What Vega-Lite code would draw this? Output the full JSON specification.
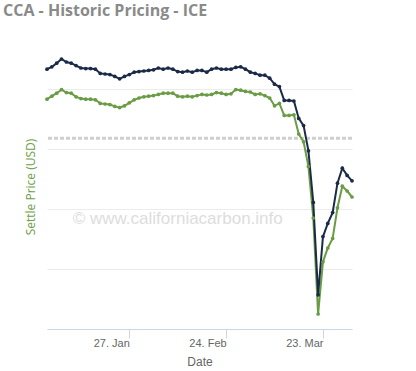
{
  "$schema": "https://vega.github.io/schema/vega-lite/v6.json",
  "width": 305,
  "height": 285,
  "autosize": {"type": "none"},
  "padding": {"left": 47, "top": 44, "right": 64, "bottom": 42},
  "background": "white",
  "title": {"text": "CCA - Historic Pricing - ICE", "anchor": "start", "frame": "group", "dx": -44, "offset": 25, "color": "#8a8a8a", "fontSize": 16, "font": "Open Sans", "fontWeight": "bold"},
  "config": {"view": {"stroke": null}},
  "datasets": {
    "prices": [
      {"date":"2020-01-02","Dec-21":17.83,"Dec-20":17.33},
      {"date":"2020-01-03","Dec-21":17.87,"Dec-20":17.38},
      {"date":"2020-01-06","Dec-21":17.93,"Dec-20":17.43},
      {"date":"2020-01-07","Dec-21":18.00,"Dec-20":17.49},
      {"date":"2020-01-08","Dec-21":17.95,"Dec-20":17.44},
      {"date":"2020-01-09","Dec-21":17.93,"Dec-20":17.43},
      {"date":"2020-01-10","Dec-21":17.89,"Dec-20":17.37},
      {"date":"2020-01-13","Dec-21":17.85,"Dec-20":17.34},
      {"date":"2020-01-14","Dec-21":17.84,"Dec-20":17.33},
      {"date":"2020-01-15","Dec-21":17.84,"Dec-20":17.33},
      {"date":"2020-01-16","Dec-21":17.83,"Dec-20":17.32},
      {"date":"2020-01-17","Dec-21":17.76,"Dec-20":17.26},
      {"date":"2020-01-20","Dec-21":17.75,"Dec-20":17.25},
      {"date":"2020-01-21","Dec-21":17.74,"Dec-20":17.24},
      {"date":"2020-01-22","Dec-21":17.71,"Dec-20":17.21},
      {"date":"2020-01-23","Dec-21":17.67,"Dec-20":17.19},
      {"date":"2020-01-24","Dec-21":17.71,"Dec-20":17.22},
      {"date":"2020-01-27","Dec-21":17.74,"Dec-20":17.27},
      {"date":"2020-01-28","Dec-21":17.78,"Dec-20":17.32},
      {"date":"2020-01-29","Dec-21":17.79,"Dec-20":17.35},
      {"date":"2020-01-30","Dec-21":17.80,"Dec-20":17.37},
      {"date":"2020-01-31","Dec-21":17.81,"Dec-20":17.38},
      {"date":"2020-02-03","Dec-21":17.82,"Dec-20":17.39},
      {"date":"2020-02-04","Dec-21":17.85,"Dec-20":17.41},
      {"date":"2020-02-05","Dec-21":17.83,"Dec-20":17.43},
      {"date":"2020-02-06","Dec-21":17.85,"Dec-20":17.43},
      {"date":"2020-02-07","Dec-21":17.83,"Dec-20":17.43},
      {"date":"2020-02-10","Dec-21":17.79,"Dec-20":17.38},
      {"date":"2020-02-11","Dec-21":17.78,"Dec-20":17.37},
      {"date":"2020-02-12","Dec-21":17.80,"Dec-20":17.38},
      {"date":"2020-02-13","Dec-21":17.78,"Dec-20":17.37},
      {"date":"2020-02-14","Dec-21":17.81,"Dec-20":17.39},
      {"date":"2020-02-17","Dec-21":17.81,"Dec-20":17.41},
      {"date":"2020-02-18","Dec-21":17.78,"Dec-20":17.40},
      {"date":"2020-02-19","Dec-21":17.83,"Dec-20":17.41},
      {"date":"2020-02-20","Dec-21":17.85,"Dec-20":17.44},
      {"date":"2020-02-21","Dec-21":17.83,"Dec-20":17.43},
      {"date":"2020-02-24","Dec-21":17.83,"Dec-20":17.41},
      {"date":"2020-02-25","Dec-21":17.83,"Dec-20":17.42},
      {"date":"2020-02-26","Dec-21":17.86,"Dec-20":17.49},
      {"date":"2020-02-27","Dec-21":17.87,"Dec-20":17.48},
      {"date":"2020-02-28","Dec-21":17.83,"Dec-20":17.46},
      {"date":"2020-03-02","Dec-21":17.78,"Dec-20":17.45},
      {"date":"2020-03-03","Dec-21":17.76,"Dec-20":17.41},
      {"date":"2020-03-04","Dec-21":17.73,"Dec-20":17.42},
      {"date":"2020-03-05","Dec-21":17.73,"Dec-20":17.39},
      {"date":"2020-03-06","Dec-21":17.68,"Dec-20":17.35},
      {"date":"2020-03-09","Dec-21":17.58,"Dec-20":17.22},
      {"date":"2020-03-10","Dec-21":17.54,"Dec-20":17.26},
      {"date":"2020-03-11","Dec-21":17.31,"Dec-20":17.06},
      {"date":"2020-03-12","Dec-21":17.31,"Dec-20":17.06},
      {"date":"2020-03-13","Dec-21":17.30,"Dec-20":17.07},
      {"date":"2020-03-16","Dec-21":17.01,"Dec-20":16.75},
      {"date":"2020-03-17","Dec-21":16.89,"Dec-20":16.62},
      {"date":"2020-03-18","Dec-21":16.47,"Dec-20":16.21},
      {"date":"2020-03-19","Dec-21":15.61,"Dec-20":15.35},
      {"date":"2020-03-20","Dec-21":14.07,"Dec-20":13.75},
      {"date":"2020-03-23","Dec-21":15.04,"Dec-20":14.62},
      {"date":"2020-03-24","Dec-21":15.26,"Dec-20":14.85},
      {"date":"2020-03-25","Dec-21":15.44,"Dec-20":15.01},
      {"date":"2020-03-26","Dec-21":15.93,"Dec-20":15.52},
      {"date":"2020-03-27","Dec-21":16.18,"Dec-20":15.88},
      {"date":"2020-03-30","Dec-21":16.06,"Dec-20":15.80},
      {"date":"2020-03-31","Dec-21":15.97,"Dec-20":15.70}
    ]
  },
  "layer": [
    {
      "data": {"values": [{"date": "2020-02-10", "price": 15.33, "label": "© www.californiacarbon.info"}]},
      "mark": {"type": "text", "font": "Liberation Sans", "fontSize": 17, "color": "#dddddd", "align": "center", "baseline": "middle"},
      "encoding": {
        "x": {"field": "date", "type": "ordinal"},
        "y": {"field": "price", "type": "quantitative"},
        "text": {"field": "label"}
      }
    },
    {
      "data": {"values": [{"ref": 16.68}]},
      "mark": {"type": "rule", "color": "#cfcfcf", "strokeWidth": 3, "strokeDash": [4, 2]},
      "encoding": {"y": {"field": "ref", "type": "quantitative"}}
    },
    {
      "data": {"name": "prices"},
      "transform": [{"fold": ["Dec-20", "Dec-21"], "as": ["contract", "price"]}],
      "mark": {"type": "line", "strokeWidth": 2, "point": {"filled": true, "size": 14}},
      "encoding": {
        "x": {
          "field": "date", "type": "ordinal",
          "scale": {"type": "point", "padding": 0},
          "axis": {
            "values": ["2020-01-27", "2020-02-24", "2020-03-23"],
            "labelExpr": "utcFormat(toDate(datum.value), '%d. %b')",
            "labelAngle": 0, "labelFont": "Liberation Sans", "labelFontSize": 11, "labelColor": "#666666",
            "labelPadding": 5, "tickSize": 9, "tickColor": "#ccd6eb", "domainColor": "#ccd6eb", "domainWidth": 1,
            "grid": false, "title": "Date", "titleFont": "Liberation Sans", "titleFontSize": 12,
            "titleFontWeight": "normal", "titleColor": "#666666", "titlePadding": 8
          }
        },
        "y": {
          "field": "price", "type": "quantitative",
          "scale": {"domain": [13.5, 18.25], "nice": false, "zero": false},
          "axis": {
            "values": [13.5, 13.75, 14, 14.25, 14.5, 14.75, 15, 15.25, 15.5, 15.75, 16, 16.25, 16.5, 16.75, 17, 17.25, 17.5, 17.75, 18, 18.25],
            "labels": false, "ticks": false, "domain": false, "grid": true, "gridColor": "#ececec", "gridWidth": 1,
            "title": "Settle Price (USD)", "titleFont": "Open Sans", "titleFontSize": 12, "titleFontWeight": "normal",
            "titleColor": "#6d9e47", "titlePadding": 10
          }
        },
        "color": {
          "field": "contract", "type": "nominal",
          "scale": {"domain": ["Dec-20", "Dec-21"], "range": ["#6a9c45", "#1b2b47"]},
          "legend": null
        }
      }
    }
  ]
}
